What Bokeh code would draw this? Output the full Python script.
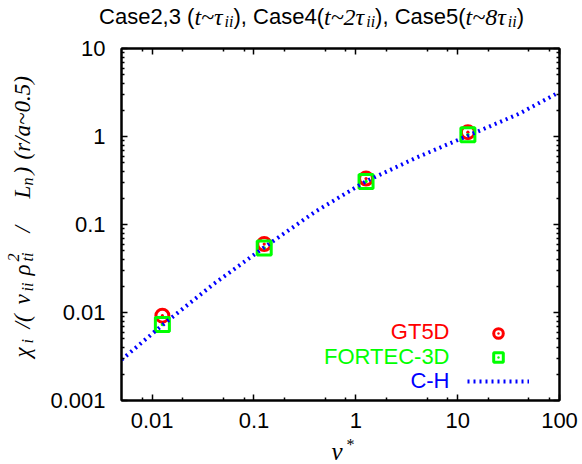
from math import pi

from bokeh.embed import file_html
from bokeh.layouts import column, row
from bokeh.models import (CustomJSTickFormatter, FixedTicker, Label, Legend,
                          LegendItem, LogAxis, Range1d)
from bokeh.plotting import figure
from bokeh.resources import INLINE

# --- data -------------------------------------------------------------------
# collisionality of the simulation cases
NU_SIM = [0.0126, 0.126, 1.26, 12.6]
# normalised ion heat diffusivity from the two codes
CHI_GT5D = [0.0092, 0.060, 0.333, 1.12]
CHI_FORTEC = [0.0073, 0.054, 0.308, 1.05]
# Chang-Hinton neoclassical prediction
CH_NU = [0.005, 0.0126, 0.04, 0.126, 0.4, 1.26, 4.0, 12.6, 40.0, 100.0]
CH_CHI = [0.0029, 0.0072, 0.021, 0.055, 0.14, 0.31, 0.58, 1.02, 1.81, 3.2]

X_TICKS = [0.01, 0.1, 1, 10, 100]
X_TICK_LABELS = ["0.01", "0.1", "1", "10", "100"]
Y_TICKS = [0.001, 0.01, 0.1, 1, 10]
Y_TICK_LABELS = ["0.001", "0.01", "0.1", "1", "10"]

SERIES_NAMES = ["GT5D", "FORTEC-3D", "C-H"]
COLORS = ["#ff0000", "#00ff00", "#0000ff"]

SANS = "Liberation Sans"
SERIF = "Liberation Serif"

# approximate advance widths (em) used to lay out mixed-font text runs
ADV_SANS = {"C": .722, "a": .556, "s": .5, "e": .556, ",": .278, " ": .278,
            "(": .333, ")": .333}
ADV_SERIF_I = {"t": .278, "~": .541, "τ": .44, "i": .278}

# --- page geometry (canvas pixels) ------------------------------------------
W, H = 582, 464
TITLE_H = 32          # strip holding the title
XLAB_H = 28           # strip holding the x-axis label
YLAB_W = 44           # strip holding the rotated y-axis label
MID_H = H - TITLE_H - XLAB_H
FL, FR, FT, FB = 121, 559, 48, 400  # plot frame edges
BASE_FIX = 7          # alphabetic-baseline correction of Label text


def text_strip(width, height):
    f = figure(width=width, height=height, title=None, toolbar_location=None,
               output_backend="svg", x_axis_location=None, y_axis_location=None,
               min_border=0, x_range=Range1d(0, 1), y_range=Range1d(0, 1))
    f.outline_line_color = None
    f.grid.visible = False
    f.background_fill_color = "white"
    f.border_fill_color = "white"
    return f


def put(fig, ox, oy, fh, text, cx, cy, size, font=SANS, style="normal",
        color="black", rotated=False, align="left"):
    """Text run whose baseline anchor sits at canvas pixel (cx, cy); the
    figure's frame starts at canvas (ox, oy) and is fh pixels tall."""
    if rotated:
        cx -= BASE_FIX
    else:
        cy -= BASE_FIX
    fig.add_layout(Label(x=cx - ox, y=oy + fh - cy, x_units="screen",
                         y_units="screen", text=text, text_font=font,
                         text_font_style=style, text_font_size=f"{size}px",
                         text_color=color, text_align=align,
                         text_baseline="alphabetic",
                         angle=pi / 2 if rotated else 0.0))


def run_width(text, size, table, default=0.556):
    return sum(table.get(ch, default) for ch in text) * size


# --- main plot --------------------------------------------------------------
p = figure(width=W - YLAB_W, height=MID_H, x_axis_type="log", y_axis_type="log",
           x_range=Range1d(0.005, 100), y_range=Range1d(0.001, 10),
           title=None, output_backend="svg", toolbar_location=None,
           min_border_left=FL - YLAB_W, min_border_right=W - FR,
           min_border_top=FT - TITLE_H, min_border_bottom=TITLE_H + MID_H - FB)
p.grid.visible = False
p.outline_line_color = "black"
p.outline_line_width = 2
p.background_fill_color = "white"
p.border_fill_color = "white"

bottom_axis = p.below[0]
left_axis = p.left[0]

x_minor = [m * 10.0 ** e for e in range(-3, 2) for m in (2, 5, 8)]
x_minor = [round(v, 6) for v in x_minor if 0.005 < v < 100]
y_minor = [round(m * 10.0 ** e, 6) for e in range(-3, 1) for m in range(2, 10)]
xt = FixedTicker(ticks=X_TICKS, minor_ticks=x_minor)
yt = FixedTicker(ticks=Y_TICKS, minor_ticks=y_minor)

blank = CustomJSTickFormatter(code="return ''")
top_axis = LogAxis(ticker=xt, formatter=blank)
right_axis = LogAxis(ticker=yt, formatter=blank)
p.add_layout(top_axis, "above")
p.add_layout(right_axis, "right")

bottom_axis.ticker = xt
left_axis.ticker = yt
bottom_axis.major_label_overrides = dict(zip(X_TICKS, X_TICK_LABELS))
left_axis.major_label_overrides = dict(zip(Y_TICKS, Y_TICK_LABELS))

for ax in [bottom_axis, left_axis, top_axis, right_axis]:
    ax.axis_line_color = "black"
    ax.axis_line_width = 2
    ax.major_tick_in = 6
    ax.major_tick_out = 0
    ax.minor_tick_in = 3
    ax.minor_tick_out = 0
    ax.major_tick_line_width = 1.5
    ax.minor_tick_line_width = 1.5
    ax.major_tick_line_color = "black"
    ax.minor_tick_line_color = "black"
    ax.major_label_text_font = SANS
    ax.major_label_text_font_size = "22px"
    ax.major_label_text_color = "black"
for ax in [top_axis, right_axis]:
    ax.major_label_standoff = 0
bottom_axis.major_label_standoff = 12
left_axis.major_label_standoff = 16

# --- data marks ---------------------------------------------------------------
r_gt = p.scatter(NU_SIM, CHI_GT5D, marker="circle_dot", size=13,
                 fill_color=None, line_color=COLORS[0], line_width=3)
r_fo = p.scatter(NU_SIM, CHI_FORTEC, marker="square_dot", size=14,
                 fill_color=None, line_color=COLORS[1], line_width=3)
r_ch = p.line(CH_NU, CH_CHI, line_color=COLORS[2], line_width=4,
              line_dash="2 4")

# legend keys (texts are right-aligned to the left of the keys)
legend = Legend(items=[LegendItem(label=" ", renderers=[r]) for r in (r_gt, r_fo, r_ch)],
                location=(345.5, 7), glyph_width=62, glyph_height=24,
                label_width=0, label_height=24, label_standoff=0,
                padding=0, spacing=0, margin=0,
                border_line_color=None, background_fill_alpha=0,
                label_text_font_size="0px")
p.add_layout(legend)
for name, color, base in zip(SERIES_NAMES, COLORS, [338, 363, 387]):
    put(p, FL, FT, FB - FT, name, 449, base, 22, color=color, align="right")

# --- title strip: Case2,3 (t~τii), Case4(t~2τii), Case5(t~8τii) -----------
t_fig = text_strip(W, TITLE_H)
TB = 23
SANS_PX, IT_PX, SUB_PX = 22, 24, 16
title_runs = [
    ("Case2,3 (", "sans"), ("t~τ", "it"), ("ii", "sub"),
    ("), Case4(", "sans"), ("t~2τ", "it"), ("ii", "sub"),
    ("), Case5(", "sans"), ("t~8τ", "it"), ("ii", "sub"),
    (")", "sans"),
]


def title_run_width(txt, kind):
    if kind == "sans":
        return run_width(txt, SANS_PX, ADV_SANS)
    if kind == "it":
        return run_width(txt, IT_PX, ADV_SERIF_I, default=0.5)
    return run_width(txt, SUB_PX, ADV_SERIF_I, default=0.5)


total = sum(title_run_width(t, k) for t, k in title_runs)
cursor = 311 - total / 2
for txt, kind in title_runs:
    if kind == "sans":
        put(t_fig, 0, 0, TITLE_H, txt, cursor, TB, SANS_PX)
    elif kind == "it":
        put(t_fig, 0, 0, TITLE_H, txt, cursor, TB, IT_PX, font=SERIF, style="italic")
    else:
        put(t_fig, 0, 0, TITLE_H, txt, cursor, TB + 5, SUB_PX, font=SERIF, style="italic")
    cursor += title_run_width(txt, kind)

# --- y-label strip: chi_i /(nu_ii rho^2_ti / L_n) (r/a~0.5) ----------------
y_fig = text_strip(YLAB_W, MID_H)
YB = 29  # baseline column of the rotated label
ylabel_runs = [
    ("χ", 393, 23, 0), ("i", 379, 16, 5), ("/(", 364, 23, 0),
    ("ν", 340, 23, 0), ("ii", 327, 16, 5), ("ρ", 311, 23, 0),
    ("2", 297, 16, -9), ("ti", 297, 16, 5), ("/", 268, 23, 0),
    ("L", 234, 23, 0), ("n", 221, 16, 5), (")", 210, 23, 0),
    ("(r/a~0.5)", 195, 23, 0),
]
for txt, cy, size, shift in ylabel_runs:
    put(y_fig, 0, TITLE_H, MID_H, txt, YB + shift, cy, size,
        font=SERIF, style="italic", rotated=True)

# --- x-label strip: nu* ------------------------------------------------------
x_fig = text_strip(W, XLAB_H)
put(x_fig, 0, TITLE_H + MID_H, XLAB_H, "ν", 331, 458, 25, font=SERIF, style="italic")
put(x_fig, 0, TITLE_H + MID_H, XLAB_H, "*", 346, 451, 16, font=SERIF)

layout = column(t_fig, row(y_fig, p, spacing=0), x_fig, spacing=0)
open("out.html", "w").write(file_html(layout, INLINE))
